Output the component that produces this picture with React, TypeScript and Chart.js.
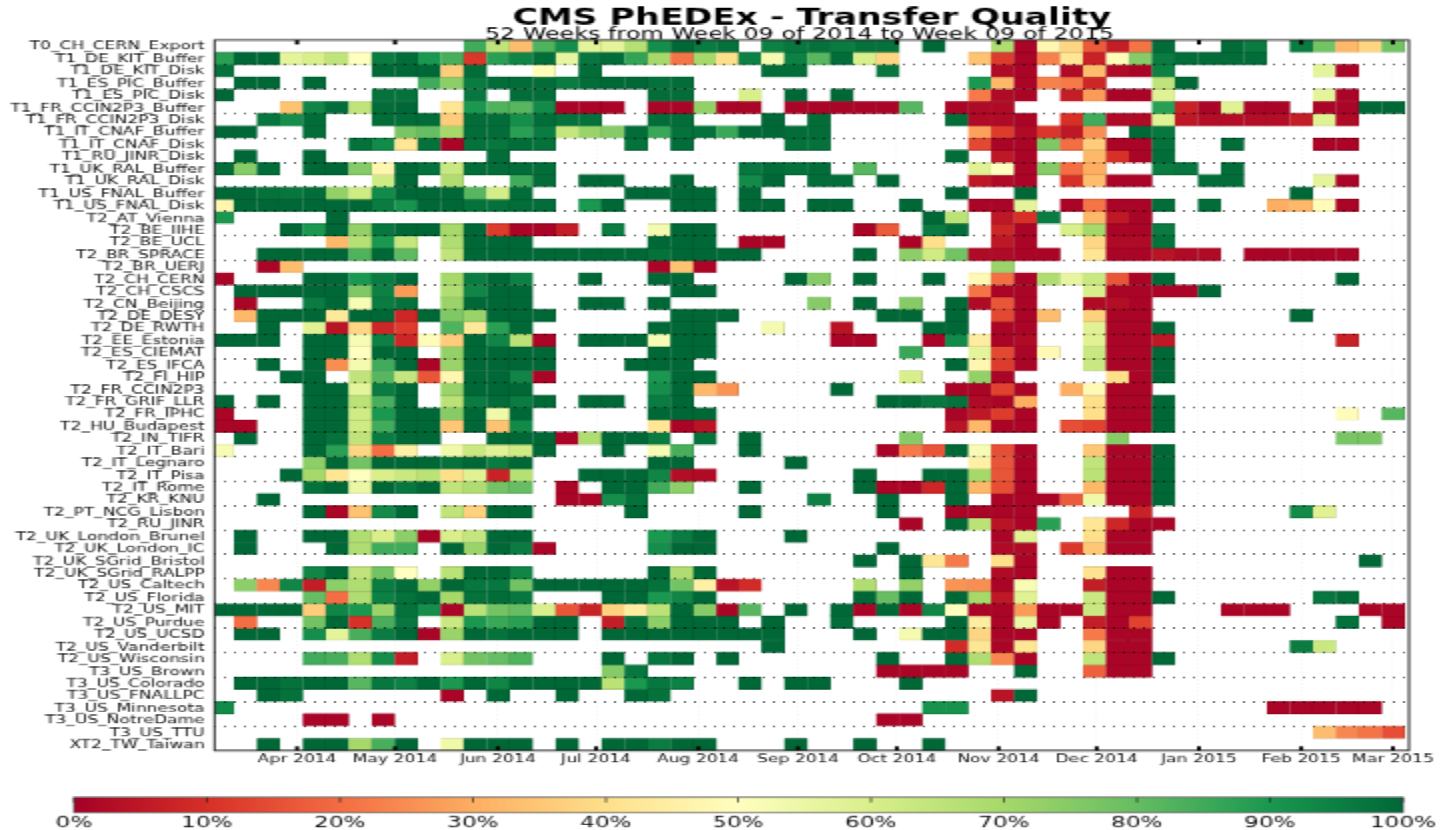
import React, { useEffect, useRef } from "react";
import { Chart, registerables } from "chart.js";

Chart.register(...registerables);

const sites = [
  "T0_CH_CERN_Export","T1_DE_KIT_Buffer","T1_DE_KIT_Disk","T1_ES_PIC_Buffer","T1_ES_PIC_Disk","T1_FR_CCIN2P3_Buffer","T1_FR_CCIN2P3_Disk","T1_IT_CNAF_Buffer","T1_IT_CNAF_Disk","T1_RU_JINR_Disk",
  "T1_UK_RAL_Buffer","T1_UK_RAL_Disk","T1_US_FNAL_Buffer","T1_US_FNAL_Disk","T2_AT_Vienna","T2_BE_IIHE","T2_BE_UCL","T2_BR_SPRACE","T2_BR_UERJ","T2_CH_CERN",
  "T2_CH_CSCS","T2_CN_Beijing","T2_DE_DESY","T2_DE_RWTH","T2_EE_Estonia","T2_ES_CIEMAT","T2_ES_IFCA","T2_FI_HIP","T2_FR_CCIN2P3","T2_FR_GRIF_LLR",
  "T2_FR_IPHC","T2_HU_Budapest","T2_IN_TIFR","T2_IT_Bari","T2_IT_Legnaro","T2_IT_Pisa","T2_IT_Rome","T2_KR_KNU","T2_PT_NCG_Lisbon","T2_RU_JINR",
  "T2_UK_London_Brunel","T2_UK_London_IC","T2_UK_SGrid_Bristol","T2_UK_SGrid_RALPP","T2_US_Caltech","T2_US_Florida","T2_US_MIT","T2_US_Purdue","T2_US_UCSD","T2_US_Vanderbilt",
  "T2_US_Wisconsin","T3_US_Brown","T3_US_Colorado","T3_US_FNALLPC","T3_US_Minnesota","T3_US_NotreDame","T3_US_TTU","XT2_TW_Taiwan",
];

// [week index, transfer quality %] for every week a site has data
const r1 = [[11,85],[12,65],[13,33],[14,83],[15,92],[16,57],[17,57],[18,67],[19,92],[20,100],[21,96],[22,98],[24,95],[25,97],[26,98],[27,96],[28,98],[29,98],[31,100],[34,68],[35,1],[36,47],[37,38],[38,17],[39,6],[40,21],[41,99],[44,99],[45,96],[47,96],[48,78],[49,32],[50,38],[51,78]];
const r2 = [[0,88],[1,100],[2,100],[3,57],[4,60],[5,65],[6,50],[7,96],[8,99],[9,90],[10,84],[11,11],[12,88],[13,94],[14,99],[15,56],[16,97],[17,99],[18,87],[19,70],[20,21],[21,70],[22,40],[23,95],[24,53],[25,95],[26,82],[27,99],[28,60],[29,38],[33,34],[34,12],[35,1],[36,23],[37,42],[38,7],[39,49],[40,75],[41,96],[42,99],[43,99],[44,99],[45,99]];
const r3 = [[0,98],[7,100],[8,100],[9,100],[10,36],[11,99],[14,49],[16,99],[24,99],[25,99],[29,97],[34,2],[35,1],[37,2],[38,33],[39,2],[40,1],[41,95],[48,57],[49,1]];
const r4 = [[1,100],[2,100],[4,100],[9,85],[10,74],[11,96],[12,99],[13,99],[14,99],[15,96],[16,99],[17,100],[18,100],[19,98],[20,99],[33,90],[34,32],[35,1],[36,23],[37,22],[38,8],[41,65],[42,100]];
const r5 = [[0,100],[7,98],[8,98],[11,97],[13,99],[14,99],[19,99],[20,99],[23,60],[25,100],[27,100],[33,22],[34,2],[35,1],[37,6],[38,27],[39,1],[40,1],[41,58],[48,57],[49,1]];
const r6 = [[3,34],[4,94],[5,99],[6,65],[7,99],[8,100],[10,42],[11,90],[12,83],[13,82],[14,93],[15,1],[16,1],[17,1],[19,1],[20,1],[21,73],[22,1],[23,1],[25,1],[26,1],[27,1],[28,1],[29,1],[30,82],[32,1],[33,2],[34,2],[41,88],[42,7],[43,1],[44,58],[45,1],[46,1],[48,1],[49,1],[50,100],[51,100]];
const r7 = [[2,97],[3,92],[4,99],[7,99],[8,99],[9,99],[10,36],[11,99],[12,99],[13,92],[14,99],[15,98],[16,98],[19,99],[20,99],[24,100],[26,99],[32,99],[33,2],[34,2],[35,1],[37,10],[38,85],[39,2],[40,2],[41,58],[42,5],[43,3],[44,3],[45,3],[46,3],[47,6],[48,58],[49,2]];
const r8 = [[0,100],[1,100],[4,99],[8,77],[9,80],[10,70],[11,99],[12,99],[13,88],[14,96],[15,64],[16,72],[17,75],[18,99],[19,86],[20,98],[21,98],[22,86],[23,100],[24,100],[25,99],[26,99],[33,28],[34,12],[35,2],[36,11],[37,5],[38,25],[40,100],[41,97]];
const r9 = [[6,98],[7,93],[8,42],[9,98],[10,1],[11,98],[12,97],[13,99],[14,98],[18,98],[20,99],[25,98],[26,98],[33,14],[34,1],[35,1],[36,76],[37,20],[38,36],[39,1],[40,1],[41,98],[44,99],[48,1],[49,1]];
const r10 = [[1,100],[4,100],[12,99],[32,99],[34,5],[35,1],[38,32],[39,10],[40,1],[41,99]];
const r11 = [[0,99],[1,75],[2,99],[4,100],[5,100],[6,75],[7,47],[8,100],[9,98],[10,63],[11,99],[12,99],[13,99],[14,99],[23,97],[24,99],[25,98],[26,99],[28,82],[33,58],[34,50],[35,1],[36,75],[37,20],[38,30],[41,96],[42,97],[44,99]];
const r12 = [[7,62],[8,100],[10,68],[13,85],[14,99],[16,100],[17,100],[20,100],[23,93],[24,100],[26,99],[27,99],[29,100],[33,5],[34,2],[35,1],[37,10],[38,33],[39,1],[40,1],[43,99],[44,99],[48,57],[49,1]];
const r13 = [[0,100],[1,100],[2,98],[3,97],[4,99],[5,73],[6,62],[7,93],[8,100],[9,100],[10,100],[11,82],[12,61],[13,99],[18,100],[19,100],[20,100],[21,100],[23,100],[32,100],[35,100],[47,100]];
const r14 = [[0,47],[1,100],[2,100],[3,100],[4,100],[5,100],[6,100],[7,96],[8,91],[9,100],[10,100],[11,98],[12,98],[13,99],[14,99],[16,90],[17,100],[20,100],[21,100],[23,100],[24,100],[26,100],[27,100],[30,100],[33,1],[34,1],[35,57],[37,1],[38,21],[39,1],[40,1],[41,99],[43,99],[46,30],[47,32],[48,49],[49,1]];
const r15 = [[0,90],[5,100],[31,100],[32,66],[34,5],[35,10],[36,96],[38,32],[39,5],[40,1]];
const r16 = [[3,100],[4,90],[5,100],[6,73],[7,97],[8,100],[9,100],[10,70],[11,100],[12,12],[13,1],[14,1],[15,6],[17,96],[19,53],[20,100],[21,100],[28,1],[29,17],[31,96],[32,99],[34,8],[35,1],[37,60],[38,70],[39,1],[40,1],[41,96]];
const r17 = [[5,32],[6,67],[7,90],[8,64],[10,68],[11,100],[12,100],[13,100],[19,100],[20,100],[21,100],[23,1],[24,1],[30,1],[31,40],[34,5],[35,1],[38,38],[39,2],[40,2],[41,98]];
const r18 = [[2,100],[3,100],[4,100],[5,100],[6,83],[7,100],[8,81],[10,65],[11,100],[12,100],[13,100],[14,100],[15,100],[16,100],[17,100],[18,100],[19,98],[20,100],[21,100],[22,100],[23,100],[28,100],[30,74],[31,62],[32,78],[33,2],[34,2],[35,1],[36,1],[38,42],[39,1],[40,1],[41,4],[42,2],[43,2],[45,1],[46,1],[47,1],[48,1],[49,1]];
const r19 = [[2,1],[3,33],[19,1],[20,34],[21,1],[34,72]];
const r20 = [[0,1],[4,100],[5,100],[6,90],[7,96],[8,100],[10,70],[11,96],[12,100],[13,95],[16,100],[19,100],[20,100],[25,100],[26,75],[28,100],[31,100],[33,48],[34,20],[35,1],[36,68],[37,56],[38,63],[39,16],[40,1],[41,100],[49,100]];
const r21 = [[1,100],[2,100],[3,100],[4,100],[5,100],[6,76],[7,95],[8,27],[10,68],[11,94],[12,100],[13,100],[20,100],[21,100],[33,21],[34,1],[35,1],[38,60],[39,1],[40,1],[41,1],[42,1],[43,100]];
const r22 = [[1,1],[4,96],[5,100],[6,52],[7,96],[8,98],[10,72],[11,100],[12,100],[13,100],[16,100],[17,100],[19,100],[26,75],[28,100],[30,75],[32,100],[33,2],[34,16],[35,1],[38,2],[39,3],[40,1]];
const r23 = [[1,32],[2,100],[3,100],[4,100],[5,43],[6,100],[7,100],[8,8],[9,100],[10,76],[11,72],[12,100],[13,100],[14,100],[20,100],[21,100],[22,100],[29,100],[30,100],[32,100],[34,14],[35,1],[36,33],[38,37],[39,1],[40,1],[47,100]];
const r24 = [[2,100],[4,58],[5,4],[6,38],[7,8],[8,12],[10,83],[11,43],[12,88],[13,100],[19,100],[20,100],[21,100],[24,53],[27,4],[31,100],[32,100],[34,1],[35,1],[38,58],[39,1],[40,1],[41,100]];
const r25 = [[0,100],[1,100],[2,100],[4,100],[5,100],[6,52],[7,95],[8,8],[9,49],[10,36],[11,100],[12,94],[13,66],[14,1],[16,100],[17,100],[18,100],[19,52],[20,100],[21,100],[27,1],[28,1],[31,1],[32,93],[33,44],[34,1],[35,2],[38,58],[39,1],[40,1],[41,5],[49,7]];
const r26 = [[4,100],[5,100],[6,50],[7,100],[8,100],[10,73],[11,100],[12,100],[13,100],[14,100],[19,100],[20,100],[21,100],[30,86],[33,57],[34,14],[35,1],[36,48],[38,63],[39,1],[40,1],[41,100]];
const r27 = [[2,100],[4,100],[5,25],[6,53],[7,85],[8,100],[9,1],[10,72],[11,100],[12,100],[13,100],[14,100],[18,100],[19,100],[20,100],[32,100],[33,47],[34,12],[35,1],[38,63],[39,1],[40,1],[41,100]];
const r28 = [[3,100],[4,100],[6,65],[7,82],[8,64],[9,16],[10,47],[11,100],[12,100],[13,94],[14,1],[19,90],[20,100],[21,100],[30,60],[33,73],[34,1],[39,40],[40,1],[41,100]];
const r29 = [[4,100],[5,100],[6,57],[7,96],[8,100],[10,72],[11,100],[12,100],[13,100],[19,92],[20,100],[21,32],[22,26],[27,100],[32,1],[33,1],[34,13],[35,1],[37,30],[38,48],[39,1],[40,1]];
const r30 = [[0,100],[2,100],[4,100],[5,100],[6,66],[7,84],[8,100],[10,66],[11,96],[12,99],[13,96],[14,100],[16,100],[17,100],[19,96],[20,100],[29,100],[30,100],[31,97],[32,98],[33,2],[34,1],[35,30],[38,40],[39,1],[40,1],[41,100]];
const r31 = [[0,1],[4,100],[5,100],[6,62],[7,90],[8,100],[9,100],[10,75],[11,100],[12,54],[13,100],[19,100],[20,100],[21,100],[32,1],[33,5],[34,12],[35,1],[38,40],[39,1],[40,1],[41,100],[49,49],[51,82]];
const r32 = [[0,1],[1,1],[4,100],[5,100],[6,62],[7,85],[8,100],[9,100],[10,35],[11,100],[12,34],[13,93],[19,42],[20,1],[21,4],[32,4],[33,32],[34,1],[35,1],[37,15],[38,13],[39,1],[40,1],[41,100]];
const r33 = [[1,100],[4,100],[5,98],[6,65],[7,96],[8,100],[9,100],[12,100],[13,100],[14,100],[15,1],[16,68],[17,100],[18,100],[19,96],[21,98],[23,100],[30,75],[39,75],[49,77],[50,77]];
const r34 = [[0,52],[4,100],[5,88],[6,38],[7,20],[8,45],[10,54],[11,63],[12,58],[13,62],[14,100],[17,100],[19,52],[20,84],[23,100],[29,1],[30,22],[31,16],[32,100],[33,52],[34,15],[35,1],[38,35],[39,1],[40,1],[41,100]];
const r35 = [[4,74],[5,100],[6,78],[7,100],[8,100],[9,100],[10,98],[11,100],[12,96],[13,100],[19,100],[20,100],[25,100],[33,45],[34,16],[35,1],[38,65],[39,1],[40,1],[41,100]];
const r36 = [[3,100],[4,70],[5,42],[6,50],[7,60],[8,63],[9,66],[10,40],[11,58],[12,7],[13,67],[16,100],[17,100],[18,100],[19,94],[20,3],[21,2],[28,100],[31,100],[32,100],[33,70],[34,16],[35,1],[38,66],[39,1],[40,1],[41,100]];
const r37 = [[4,98],[5,100],[6,55],[7,100],[8,97],[9,100],[10,65],[11,68],[12,78],[13,80],[15,1],[17,100],[18,100],[19,85],[20,74],[23,100],[28,100],[29,1],[30,1],[31,8],[32,100],[33,32],[34,15],[35,1],[38,32],[39,1],[40,1],[41,100]];
const r38 = [[2,100],[15,1],[16,1],[17,92],[18,98],[26,95],[29,100],[32,100],[34,1],[35,1],[36,1],[37,17],[38,54],[39,1],[40,1],[41,100]];
const r39 = [[4,100],[5,1],[6,34],[7,93],[8,100],[10,65],[11,37],[12,100],[13,100],[18,100],[23,100],[29,100],[32,1],[33,1],[34,1],[35,1],[40,7],[47,93],[48,58]];
const r40 = [[30,1],[32,100],[33,66],[34,4],[35,1],[36,88],[38,42],[39,8],[40,1],[41,1]];
const r41 = [[1,100],[4,100],[5,100],[6,68],[7,60],[8,74],[9,1],[10,60],[11,64],[12,100],[13,100],[19,90],[20,96],[21,100],[25,100],[34,1],[35,58],[38,40],[39,1],[40,1]];
const r42 = [[1,100],[5,100],[6,68],[7,85],[8,85],[10,100],[11,72],[12,100],[13,96],[14,1],[19,92],[20,100],[21,100],[29,100],[34,2],[35,2],[37,11],[38,35],[39,1],[40,1]];
const r43 = [[28,100],[30,100],[31,42],[32,22],[34,40],[35,1],[50,100]];
const r44 = [[4,94],[5,100],[6,65],[7,78],[8,50],[10,66],[11,100],[12,100],[13,94],[19,100],[20,68],[21,100],[30,100],[34,2],[35,1],[38,41],[39,1],[40,1]];
const r45 = [[1,74],[2,24],[3,94],[4,6],[5,74],[6,68],[7,96],[8,99],[9,73],[10,100],[11,97],[12,97],[13,78],[14,100],[15,100],[16,100],[17,100],[18,100],[19,98],[20,78],[21,45],[22,4],[23,9],[28,68],[30,73],[32,26],[33,25],[34,1],[35,52],[38,6],[39,1],[40,1]];
const r46 = [[4,80],[5,20],[6,68],[7,95],[8,98],[9,100],[10,70],[11,98],[12,99],[13,97],[17,100],[18,100],[19,90],[20,94],[21,100],[28,100],[29,80],[30,100],[32,100],[33,70],[34,5],[35,58],[38,63],[39,1],[40,1],[41,100],[48,97],[49,99]];
const r47 = [[0,100],[1,100],[2,100],[3,100],[4,36],[5,94],[6,90],[7,72],[8,98],[9,92],[10,1],[11,66],[12,78],[13,80],[14,60],[15,16],[16,7],[17,37],[18,44],[19,66],[20,100],[21,75],[22,1],[23,82],[25,100],[27,100],[28,1],[29,100],[30,1],[31,94],[32,50],[33,1],[34,1],[35,27],[36,1],[37,1],[38,63],[39,1],[40,1],[44,1],[45,1],[46,1],[50,1],[51,1]];
const r48 = [[1,20],[4,78],[5,100],[6,10],[7,84],[8,97],[10,63],[11,90],[12,86],[13,88],[14,100],[15,100],[17,6],[18,98],[19,74],[20,100],[21,100],[22,100],[24,100],[27,99],[32,100],[33,44],[34,1],[35,55],[36,1],[38,6],[39,1],[40,13],[49,98],[51,1]];
const r49 = [[1,100],[2,100],[4,92],[5,57],[6,84],[7,96],[8,100],[9,1],[10,72],[11,100],[12,98],[13,100],[14,100],[15,100],[17,100],[18,100],[19,100],[20,100],[21,100],[22,100],[23,100],[24,100],[28,100],[30,53],[31,100],[32,100],[33,38],[34,1],[35,1],[38,22],[39,1],[40,1]];
const r50 = [[24,100],[32,9],[33,42],[34,1],[35,42],[38,38],[39,1],[40,1],[47,96],[48,63]];
const r51 = [[4,85],[5,84],[6,68],[7,92],[8,6],[10,60],[11,78],[12,80],[13,83],[17,100],[19,97],[20,100],[22,100],[29,100],[32,100],[33,68],[34,24],[35,1],[38,65],[39,1],[40,1],[41,100]];
const r52 = [[17,75],[18,97],[29,1],[30,1],[31,1],[32,1],[35,100],[38,18],[39,1],[40,1]];
const r53 = [[1,100],[2,100],[3,98],[4,100],[5,100],[6,82],[7,97],[8,95],[9,100],[10,90],[11,100],[12,94],[13,100],[14,100],[15,100],[16,100],[17,66],[18,90],[19,97],[20,95],[23,100],[25,100],[26,100],[30,100]];
const r54 = [[2,100],[3,98],[10,1],[12,100],[15,100],[18,100],[19,98],[34,4],[35,100]];
const r55 = [[0,93],[31,91],[32,91],[46,1],[47,1],[48,1],[49,1],[50,1]];
const r56 = [[4,1],[5,1],[7,1],[29,1],[30,1]];
const r57 = [[48,33],[49,24],[50,21],[51,15]];
const r58 = [[2,100],[4,100],[5,100],[6,70],[7,84],[8,100],[10,54],[11,100],[12,100],[13,100],[15,100],[17,100],[18,100],[19,96],[20,100],[21,100],[25,100],[28,100],[31,100]];

const siteCells = [r1,r2,r3,r4,r5,r6,r7,r8,r9,r10,r11,r12,r13,r14,r15,r16,r17,r18,r19,r20,r21,r22,r23,r24,r25,r26,r27,r28,r29,r30,r31,r32,r33,r34,r35,r36,r37,r38,r39,r40,r41,r42,r43,r44,r45,r46,r47,r48,r49,r50,r51,r52,r53,r54,r55,r56,r57,r58];

const monthTickValues = [3.755, 8.02, 12.49, 16.77, 21.22, 25.6, 29.9, 34.33, 38.6, 43.05, 47.5, 51.49];
const monthTickLabels = ["Apr 2014","May 2014","Jun 2014","Jul 2014","Aug 2014","Sep 2014","Oct 2014","Nov 2014","Dec 2014","Jan 2015","Feb 2015","Mar 2015"];
const colorStops = ["#a50026","#d73027","#f46d43","#fdae61","#fee08b","#ffffbf","#d9ef8b","#a6d96a","#66bd63","#1a9850","#006837"];
const subtitleText = "52 Weeks from Week 09 of 2014 to Week 09 of 2015";

const CW = 721;
const CH = 639;
const MAIN_H = 600;
const FONT = "'DejaVu Sans'";

const hex = (s: string) => [1, 3, 5].map((i) => parseInt(s.slice(i, i + 2), 16));
function qualityRgb(v: number) {
  const t = Math.min(9.9999, Math.max(0, v / 10));
  const i = Math.floor(t);
  const a = hex(colorStops[i]);
  const b = hex(colorStops[i + 1]);
  return a.map((x, k) => Math.round(x + (b[k] - x) * (t - i)));
}
const qualityColor = (v: number) => `rgb(${qualityRgb(v).join(",")})`;
const qualityEdge = (v: number) => `rgb(${qualityRgb(v).map((x) => Math.round(x * 0.78)).join(",")})`;

const frameTicks = {
  id: "frameTicks",
  afterDraw(chart: any) {
    const { ctx, chartArea: a, scales } = chart;
    ctx.save();
    ctx.strokeStyle = "#000";
    ctx.lineWidth = 2;
    for (const t of scales.x.ticks) {
      const x = scales.x.getPixelForValue(t.value);
      ctx.beginPath();
      ctx.moveTo(x, a.top);
      ctx.lineTo(x, a.top + 3.5);
      ctx.moveTo(x, a.bottom);
      ctx.lineTo(x, a.bottom - 3.5);
      ctx.stroke();
    }
    ctx.strokeStyle = "#222";
    ctx.lineWidth = 1;
    ctx.strokeRect(a.left, a.top, a.right - a.left, a.bottom - a.top);
    ctx.fillStyle = "#000";
    ctx.font = `11.95px ${FONT}`;
    ctx.textAlign = "center";
    ctx.textBaseline = "middle";
    ctx.fillText(subtitleText, 400, 26.6);
    ctx.restore();
  },
};

const barFrame = {
  id: "barFrame",
  afterDraw(chart: any) {
    const { ctx, chartArea: a, scales } = chart;
    ctx.save();
    ctx.strokeStyle = "#222";
    ctx.lineWidth = 0.7;
    for (const t of scales.x.ticks) {
      const x = scales.x.getPixelForValue(t.value);
      ctx.beginPath();
      ctx.moveTo(x, a.top);
      ctx.lineTo(x, a.top + 4);
      ctx.stroke();
    }
    ctx.strokeStyle = "#444";
    ctx.strokeRect(a.left, a.top, a.right - a.left, a.bottom - a.top);
    ctx.restore();
  },
};

export default function App() {
  const mainRef = useRef<HTMLCanvasElement>(null);
  const barRef = useRef<HTMLCanvasElement>(null);

  useEffect(() => {
    const main = new Chart(mainRef.current as any, {
      type: "bar",
      data: {
        labels: sites,
        datasets: siteCells.map((cells, r) => ({
          label: sites[r],
          data: cells.map(([w]) => ({ x: [w, w + 1], y: sites[r] })),
          backgroundColor: cells.map(([, v]) => qualityColor(v)),
          borderColor: cells.map(([, v]) => qualityEdge(v)),
          borderWidth: 0.5,
          grouped: false,
          barPercentage: 1,
          categoryPercentage: 1,
        })),
      } as any,
      plugins: [frameTicks],
      options: {
        indexAxis: "y",
        animation: false,
        responsive: false,
        devicePixelRatio: 1,
        layout: { padding: { left: 0, top: 0, right: CW - 705, bottom: 0 } },
        plugins: {
          legend: { display: false },
          tooltip: { enabled: false },
          title: {
            display: true,
            fullSize: false,
            text: "CMS PhEDEx - Transfer Quality",
            color: "#000",
            font: { family: FONT, size: 17.4, weight: "bold", lineHeight: 0.9 },
            padding: { top: 6.5, bottom: 8.64 },
          },
        },
        scales: {
          x: {
            type: "linear",
            min: 0.164,
            max: 52.19,
            afterBuildTicks: (s: any) => {
              s.ticks = monthTickValues.map((value) => ({ value }));
            },
            afterFit: (s: any) => {
              s.height = MAIN_H - 577.9;
            },
            ticks: {
              autoSkip: false,
              maxRotation: 0,
              minRotation: 0,
              padding: 1.5,
              color: "#111",
              font: { family: FONT, size: 8.6 },
              callback: (v: any) => monthTickLabels[monthTickValues.indexOf(v)] ?? "",
            },
            grid: { color: "rgba(0,0,0,0.08)", lineWidth: 0.8, drawTicks: false },
            border: { display: false, dash: [1, 2] },
          },
          y: {
            type: "category",
            offset: true,
            afterFit: (s: any) => {
              s.width = 107.3;
            },
            ticks: {
              autoSkip: false,
              padding: 5,
              labelOffset: 0.7,
              color: "#111",
              font: { family: FONT, size: 8.55 },
            },
            grid: {
              offset: true,
              z: 1,
              drawTicks: false,
              lineWidth: 0.8,
              color: (c: any) => (c.index > 0 && c.index % 2 === 0 ? "#000" : "rgba(0,0,0,0)"),
            },
            border: { display: false, dash: [1, 4] },
          },
        },
      } as any,
    });

    const bar = new Chart(barRef.current as any, {
      type: "bar",
      data: {
        labels: ["Transfer quality"],
        datasets: [
          {
            data: [[0, 100]],
            barPercentage: 1,
            categoryPercentage: 1,
            backgroundColor: (c: any) => {
              const a = c.chart.chartArea;
              if (!a) return colorStops[0];
              const g = c.chart.ctx.createLinearGradient(a.left, 0, a.right, 0);
              colorStops.forEach((s, i) => g.addColorStop(i / 10, s));
              return g;
            },
          },
        ],
      } as any,
      plugins: [barFrame],
      options: {
        indexAxis: "y",
        animation: false,
        responsive: false,
        devicePixelRatio: 1,
        layout: { padding: { left: 37, right: CW - 702, top: 13.8, bottom: 0 } },
        plugins: { legend: { display: false }, tooltip: { enabled: false } },
        scales: {
          y: { display: false },
          x: {
            type: "linear",
            min: 0,
            max: 100,
            afterFit: (s: any) => {
              s.height = CH - MAIN_H - 25.7;
            },
            ticks: {
              stepSize: 10,
              autoSkip: false,
              maxRotation: 0,
              padding: 1.5,
              color: "#111",
              font: { family: FONT, size: 11.6 },
              callback: (v: any) => `${v}%`,
            },
            grid: { display: false, drawTicks: false },
            border: { display: false },
          },
        },
      } as any,
    });

    return () => {
      main.destroy();
      bar.destroy();
    };
  }, []);

  return (
    <div
      style={{
        position: "fixed",
        left: 0,
        top: 0,
        width: CW,
        height: CH,
        background: "#fff",
        transform: `scale(${1441 / CW},${830 / CH})`,
        transformOrigin: "0 0",
      }}
    >
      <canvas ref={mainRef} width={CW} height={MAIN_H} style={{ position: "absolute", left: 0, top: 0 }} />
      <canvas ref={barRef} width={CW} height={CH - MAIN_H} style={{ position: "absolute", left: 0, top: MAIN_H }} />
    </div>
  );
}
